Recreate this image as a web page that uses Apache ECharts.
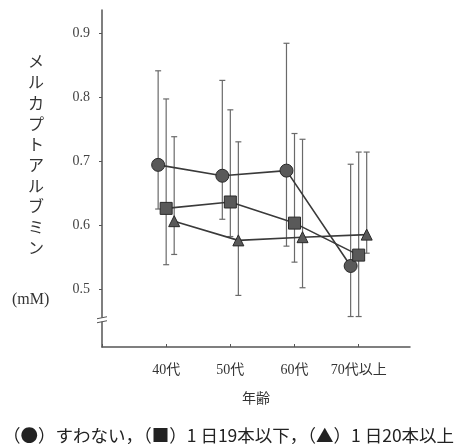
<!DOCTYPE html>
<html>
<head>
<meta charset="utf-8">
<script src="https://cdn.jsdelivr.net/npm/echarts@6/dist/echarts.min.js"></script>
<style>
  html, body { margin: 0; padding: 0; background: #fff; }
  #chart { width: 466px; height: 444px; }
</style>
</head>
<body>
<div id="chart"></div>
<script>
// Age groups on the horizontal axis
const categories = ['40代', '50代', '60代', '70代以上'];
const yTicks = [0.5, 0.6, 0.7, 0.8, 0.9];

// Mean mercaptalbumin (mM) per group
const nonSmoker = [0.694, 0.677, 0.685, 0.536];
const upTo19 = [0.626, 0.636, 0.603, 0.553];
const over20 = [0.606, 0.576, 0.581, 0.585];

// Error bar ends (low, high)
const nonSmokerLow = [0.625, 0.609, 0.567, 0.457];
const nonSmokerHigh = [0.841, 0.826, 0.884, 0.695];
const upTo19Low = [0.538, 0.582, 0.542, 0.457];
const upTo19High = [0.797, 0.780, 0.743, 0.714];
const over20Low = [0.554, 0.490, 0.502, 0.556];
const over20High = [0.738, 0.730, 0.734, 0.714];

// Horizontal dodge of each group within an age bin (axis units)
const dodge = [-0.125, 0, 0.125];

const serif = '"Liberation Serif", "DejaVu Serif", "Noto Sans CJK JP", serif';
const jp = '"Noto Sans CJK JP", sans-serif';

function points(vals, d) {
  return vals.map((v, i) => [i + 1 + d, v]);
}
function bars(lo, hi, d) {
  return lo.map((v, i) => [i + 1 + d, v, hi[i]]);
}

const groups = [
  { name: 'すわない', vals: nonSmoker, lo: nonSmokerLow, hi: nonSmokerHigh, symbol: 'circle', size: 13 },
  { name: '1日19本以下', vals: upTo19, lo: upTo19Low, hi: upTo19High, symbol: 'rect', size: 12 },
  { name: '1日20本以上', vals: over20, lo: over20Low, hi: over20High, symbol: 'triangle', size: 11 }
];

function errorBarRender(params, api) {
  const x = api.value(0);
  const top = api.coord([x, api.value(2)]);
  const bot = api.coord([x, api.value(1)]);
  const cap = 3;
  const style = { stroke: '#6a6a6a', lineWidth: 1.2, fill: null };
  return {
    type: 'group',
    children: [
      { type: 'line', shape: { x1: top[0], y1: top[1], x2: bot[0], y2: bot[1] }, style },
      { type: 'line', shape: { x1: top[0] - cap, y1: top[1], x2: top[0] + cap, y2: top[1] }, style },
      { type: 'line', shape: { x1: bot[0] - cap, y1: bot[1], x2: bot[0] + cap, y2: bot[1] }, style }
    ]
  };
}

const series = [];
groups.forEach((g, k) => {
  series.push({
    type: 'custom',
    name: g.name + '_err',
    renderItem: errorBarRender,
    data: bars(g.lo, g.hi, dodge[k]),
    encode: { x: 0, y: [1, 2] },
    z: 1,
    silent: true
  });
});
groups.forEach((g, k) => {
  series.push({
    type: 'line',
    name: g.name,
    data: points(g.vals, dodge[k]),
    symbol: g.symbol,
    symbolSize: g.size,
    showSymbol: true,
    lineStyle: { color: '#3a3a3a', width: 1.6 },
    itemStyle: { color: '#595959', borderColor: '#2a2a2a', borderWidth: 1 },
    z: 3,
    silent: true
  });
});

const chart = echarts.init(document.getElementById('chart'), null, { renderer: 'canvas' });

const option = {
  backgroundColor: '#ffffff',
  animation: false,
  grid: { left: 102, right: 56, top: 10, bottom: 97 },
  xAxis: {
    type: 'value',
    min: 0,
    max: 4.8,
    axisLine: { show: true, onZero: false, lineStyle: { color: '#555', width: 1.5 } },
    axisTick: { show: true, inside: true, length: 3, customValues: [0, 1, 2, 3, 4], lineStyle: { color: '#555' } },
    axisLabel: {
      customValues: [1, 2, 3, 4],
      formatter: v => categories[Math.round(v) - 1] || '',
      fontFamily: serif,
      fontSize: 14,
      color: '#333',
      margin: 16
    },
    splitLine: { show: false },
    name: '年齢',
    nameLocation: 'middle',
    nameGap: 44,
    nameTextStyle: { fontFamily: jp, fontSize: 14, color: '#333' }
  },
  yAxis: {
    type: 'value',
    min: 0.4094,
    max: 0.936,
    axisLine: { show: true, onZero: false, lineStyle: { color: '#555', width: 1.5 } },
    axisTick: { show: true, length: 3, customValues: yTicks, lineStyle: { color: '#555' } },
    axisLabel: {
      customValues: yTicks,
      formatter: v => v.toFixed(1),
      fontFamily: serif,
      fontSize: 14,
      color: '#444',
      margin: 12
    },
    splitLine: { show: false }
  },
  title: {
    text: '（●）すわない，（■）1 日19本以下，（▲）1 日20本以上',
    left: -2,
    top: 422,
    textStyle: { fontFamily: jp, fontSize: 17.5, fontWeight: 'normal', color: '#222' }
  },
  graphic: [
    {
      type: 'text',
      left: 28,
      top: 51,
      style: {
        text: 'メ\nル\nカ\nプ\nト\nア\nル\nブ\nミ\nン',
        font: '16px ' + jp,
        lineHeight: 20.7,
        fill: '#333',
        align: 'center'
      }
    },
    {
      type: 'text',
      left: 12,
      top: 292,
      style: { text: '(mM)', font: '16px ' + serif, fill: '#333' }
    }
  ],
  series: series
};

chart.setOption(option);

// Axis break marks on the vertical axis just below 0.5
const bp = chart.convertToPixel({ gridIndex: 0 }, [0, 0.452]);
chart.setOption({
  graphic: option.graphic.concat([
    { type: 'rect', shape: { x: bp[0] - 3, y: bp[1] - 2, width: 6, height: 4 }, style: { fill: '#fff' }, z: 100 },
    { type: 'line', shape: { x1: bp[0] - 5, y1: bp[1] - 1, x2: bp[0] + 5, y2: bp[1] - 3 }, style: { stroke: '#555', lineWidth: 1 }, z: 101 },
    { type: 'line', shape: { x1: bp[0] - 5, y1: bp[1] + 3, x2: bp[0] + 5, y2: bp[1] + 1 }, style: { stroke: '#555', lineWidth: 1 }, z: 101 }
  ])
});
</script>
</body>
</html>
